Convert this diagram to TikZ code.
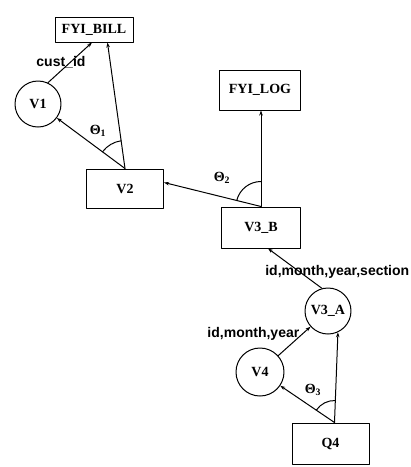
\documentclass[tikz,border=0pt]{standalone}
\usepackage{fontspec}
\setmainfont{Liberation Serif}
\newfontfamily\lblfont{Liberation Sans}
\usetikzlibrary{arrows.meta,angles}

\begin{document}
\begin{tikzpicture}[x=1pt,y=-1pt,line width=1pt,line cap=round,line join=round,
  box/.style={draw,rectangle,inner sep=0pt,font=\fontsize{14}{16}\selectfont\bfseries},
  view/.style={draw,circle,inner sep=0pt,minimum size=46pt,font=\fontsize{14}{16}\selectfont\bfseries},
  lbl/.style={inner sep=0pt,font=\lblfont\fontsize{14}{16}\selectfont\bfseries},
  ang/.style={inner sep=0pt,font=\fontsize{14}{16}\selectfont\bfseries},
  link/.style={-{Stealth[length=5pt,width=3.5pt]}}]
  \useasboundingbox (0,0) rectangle (411,467);
  \node[box,minimum width=78pt,minimum height=25pt] (bill) at (94,29.5) {FYI\_BILL};
  \node[view] (v1) at (38,104) {V1};
  \node[box,minimum width=77pt,minimum height=39pt] (v2) at (125,188.5) {V2};
  \node[box,minimum width=81pt,minimum height=40pt] (log) at (260,90) {FYI\_LOG};
  \node[box,minimum width=79pt,minimum height=41pt] (v3b) at (261,227.5) {V3\_B};
  \node[view] (v3a) at (328,311) {V3\_A};
  \node[view,minimum size=48pt] (v4) at (260,372) {V4};
  \node[box,minimum width=77pt,minimum height=41pt] (q4) at (330.5,443.5) {Q4};

  \coordinate (v2top) at (v2.north);
  \coordinate (v3btop) at (v3b.north);
  \coordinate (q4top) at ([xshift=4pt]q4.north);
  \coordinate (billin) at (bill.-44);
  \coordinate (login) at (v3btop |- log.south);
  \coordinate (v2in) at ([yshift=6pt]v2.east);
  \coordinate (v3bin) at ([xshift=7pt]v3b.south);
  \coordinate (v3ain) at (v3a.-65);

  \draw[link] (v1.65) -- ([xshift=-2pt]bill.south)
    node[lbl,midway,xshift=-9pt] {cust\_id};
  \draw[link] (v2top) -- (billin);
  \draw[link] (v2top) -- (v1);
  \draw[link] (v3btop) -- (login);
  \draw[link] (v3btop) -- (v2in);
  \draw[link] (v3a.105) -- (v3bin)
    node[lbl,pos=.42,xshift=38pt] {id,month,year,section};
  \draw[link] (v4) -- (v3a)
    node[lbl,pos=.76,anchor=east,xshift=-3pt] {id,month,year};
  \draw[link] (q4top) -- (v4);
  \draw[link] (q4top) -- (v3ain);

  \pic[draw,angle radius=28pt] {angle=billin--v2top--v1};
  \pic[draw,angle radius=25pt] {angle=login--v3btop--v2in};
  \pic[draw,angle radius=22pt] {angle=v3ain--q4top--v4};
  \node[ang] (th1) at (98,131) {Θ\textsubscript{1}};
  \node[ang] (th2) at (222,178) {Θ\textsubscript{2}};
  \node[ang] (th3) at (313,390) {Θ\textsubscript{3}};
\end{tikzpicture}
\end{document}
